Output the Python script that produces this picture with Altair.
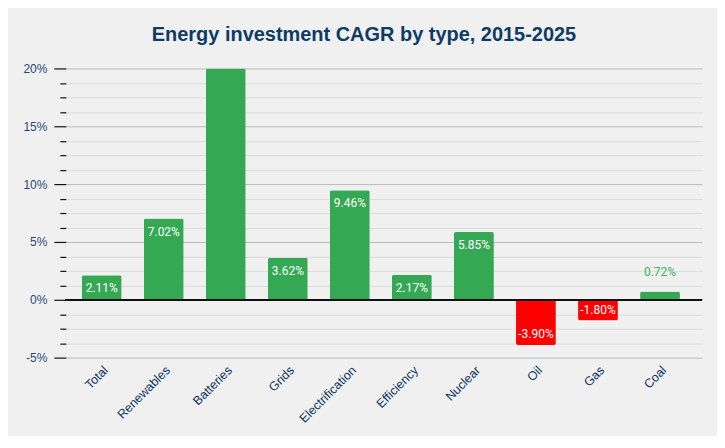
import altair as alt
import pandas as pd

# ---- data ----
categories = ["Total", "Renewables", "Batteries", "Grids", "Electrification",
              "Efficiency", "Nuclear", "Oil", "Gas", "Coal"]
# Batteries runs off the top of the 20% axis (value estimated, label hidden)
values = [2.11, 7.02, 24.0, 3.62, 9.46, 2.17, 5.85, -3.90, -1.80, 0.72]
y_ticks = [-5 + 1.25 * i for i in range(21)]

GREEN = "#34a853"
RED = "#ff0000"
NAVY = "#0d3b66"

df = pd.DataFrame({"category": categories, "value": values})

xscale = alt.Scale(paddingInner=0.357, paddingOuter=0.307, align=0.42)
yscale = alt.Scale(domain=[-5, 20], nice=False, clamp=True)

xaxis = alt.Axis(labelAngle=-45, labelAlign="right", labelBaseline="top",
                 labelPadding=6, ticks=False, domain=False, grid=False,
                 labelColor="#0b3461", labelFont="Liberation Sans", labelFontSize=12.5)
yaxis = alt.Axis(values=y_ticks, domain=False,
                 labelExpr="datum.value % 5 === 0 ? datum.value + '%' : ''",
                 labelColor="#26497a", labelFont="Liberation Sans",
                 labelFontSize=12, labelPadding=7,
                 tickColor="#111111", tickWidth=1.2,
                 tickSize={"condition": {"test": "datum.value % 5 !== 0", "value": 6},
                           "value": 12},
                 gridColor={"condition": {"test": "datum.value % 5 === 0", "value": "#b9b9b9"},
                            "value": "#dcdcdc"},
                 gridWidth=1)

X = alt.X("category:N", sort=categories, scale=xscale, title=None, axis=xaxis)
Y = alt.Y("value:Q", scale=yscale, title=None, axis=yaxis)

base = alt.Chart(df)

bars = base.mark_bar(cornerRadius=2).encode(
    x=X, y=Y,
    color=alt.condition("datum.value >= 0", alt.value(GREEN), alt.value(RED)),
)

zero = base.mark_rule(color="#111111", strokeWidth=1.5).encode(
    y=alt.Y(datum=0, type="quantitative", scale=yscale, title=None, axis=yaxis)
)

def labels(filter_expr, dy, color):
    return base.transform_filter(filter_expr).transform_calculate(
        label="replace(format(datum.value, '.2f'), '\u2212', '-') + '%'"
    ).mark_text(font="Roboto", fontSize=12, baseline="middle", dy=dy, color=color).encode(
        x=X, y=Y, text="label:N",
    )

lab_pos = labels("datum.value >= 1.5 && datum.value <= 20", 13, "white")
lab_neg = labels("datum.value <= -1.5", -11, "white")
lab_out = labels("datum.value > 0 && datum.value < 1.5", -19, "#3db35b")

chart = alt.layer(bars, zero, lab_pos, lab_neg, lab_out).properties(
    width=638,
    height=290,
    padding={"left": 14, "top": 16, "right": 14, "bottom": 10},
    background="#f0f0f0",
    title=alt.TitleParams("Energy investment CAGR by type, 2015-2025",
                          font="Liberation Sans", fontSize=20, fontWeight="bold",
                          color=NAVY, anchor="middle", dx=-20, offset=18),
).configure_view(stroke=None)

chart.save("out.html", embed_options={"renderer": "svg", "actions": False})
